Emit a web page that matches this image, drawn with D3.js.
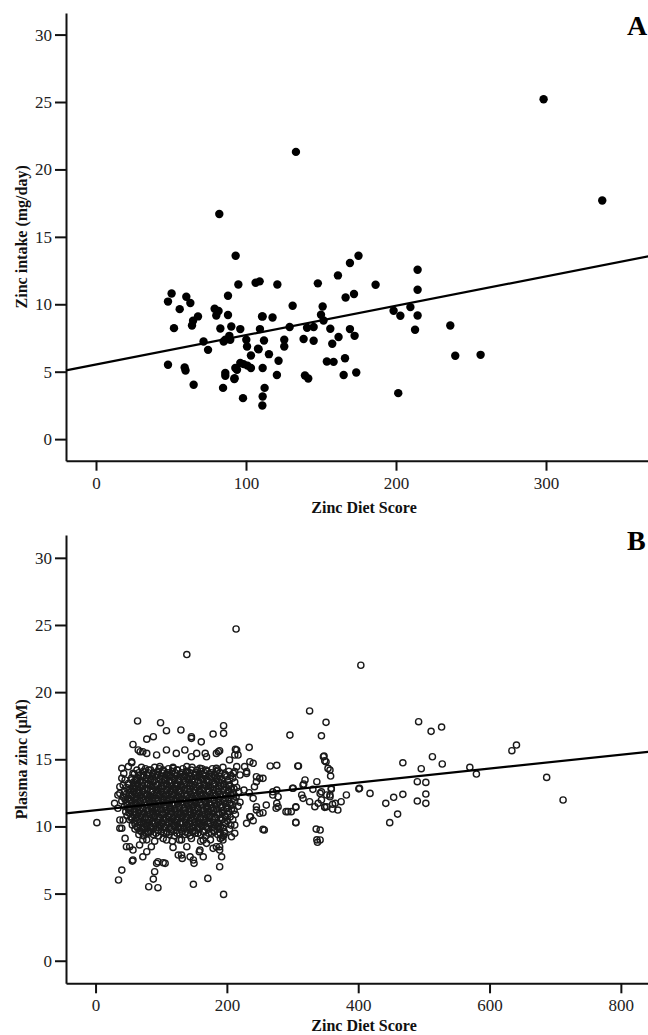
<!DOCTYPE html>
<html>
<head>
<meta charset="utf-8">
<script src="https://cdn.jsdelivr.net/npm/d3@7"></script>
<style>
  body { margin: 0; background: #fff; }
  svg { display: block; }
</style>
</head>
<body>
<svg id="chart"></svg>
<script>
const width = 648
const height = 1035

// panel A: zinc diet score vs zinc intake (mg/day)
const intakeScore = [48,50.4,55.8,60.2,62.9,52,48,59.1,59.7,65.1,68,64.7,64,71.7,74.7,79.1,81.7,80.2,82.9,82.2,84.7,86.2,86.2,86.2,88,88,88.9,90.2,92.4,92.9,93.1,94.9,96.2,98.4,98,100.2,100.7,103.3,103.3,106.4,109.1,108.4,109.3,111.1,111.1,112,112.4,111.1,110.9,115.3,117.7,120.6,120.9,121.7,125.5,125.5,129.1,131.1,133.3,138.4,139.3,141.5,140.7,145.1,145.1,147.9,150,151.1,151.7,153.9,156.2,157.5,158.4,161.3,161.7,165.1,166,166.4,169.3,169.3,172,172.4,173.5,175,186.4,198.4,201.5,202.9,209.6,212.7,214.4,214.4,214.4,236.2,239.5,256.4,298.4,337.5,94,92.2,96.2,101,89.5,85.1,110.7,108]
const intakeZinc = [10.2,10.8,9.64,10.56,10.09,8.23,5.51,5.31,5.09,4.03,9.1,8.78,8.43,7.24,6.62,9.67,9.5,9.17,8.2,16.7,3.8,4.9,4.7,7.37,9.2,10.63,7.66,8.35,4.52,5.27,13.6,11.47,8.16,5.56,3.04,7.37,6.87,6.2,5.27,11.6,11.7,6.67,8.16,9.1,5.27,7.31,3.8,3.16,2.49,6.3,9.02,4.75,11.47,5.81,7.37,6.87,8.31,9.89,21.3,7.42,4.72,4.5,8.26,8.31,7.29,11.55,9.22,9.84,8.8,5.76,8.18,7.07,5.73,12.14,7.57,4.75,6.0,10.5,13.06,8.16,10.76,7.66,4.94,13.6,11.45,9.52,3.41,9.15,9.79,8.11,12.56,11.08,9.17,8.43,6.18,6.25,25.2,17.7,5.14,4.45,5.64,5.45,7.37,7.24,9.1,6.7]

// panel B: zinc diet score vs plasma zinc (uM), pairs [score, zinc]
const plasmaOutliers = [[214,24.7],[139,22.8],[404,22.0],[64,17.85],[130,17.18],[99,17.72],[108,17.13],[195,17.5],[195,16.93],[146,16.56],[161,16.3],[179,16.88],[78,16.5],[88,16.68],[57,16.1],[65,15.69],[72,15.56],[326,18.6],[351,17.75],[296,16.8],[344,16.75],[234,15.89],[215,15.69],[217,15.32],[189,15.64],[266,14.5],[276,14.55],[309,14.5],[347,15.19],[349,14.89],[354,14.32],[40,14.33],[55,14.74],[492,17.8],[511,17.08],[527,17.4],[634,15.64],[641,16.06],[468,14.74],[496,14.3],[513,15.19],[528,14.65],[570,14.4],[580,13.9],[687,13.65],[712,11.97],[490,13.33],[503,13.28],[503,12.41],[490,11.89],[503,11.72],[468,12.39],[454,12.17],[442,11.72],[460,10.92],[448,10.28],[418,12.46],[401,12.8],[382,12.34],[374,11.84],[369,11.22],[361,11.3],[349,11.42],[361,11.65],[357,12.34],[359,12.84],[344,11.97],[344,12.58],[342,9.73],[342,8.99],[2,10.28],[195,4.94],[171,6.13],[149,5.69],[189,7.0],[95,5.44],[81,5.51],[88,6.08],[90,6.63],[35,6.01],[40,6.75],[56,7.42],[72,7.74],[103,7.3],[93,7.25],[132,7.62],[149,7.5],[164,7.74],[150,7.25],[192,7.74],[189,8.24],[257,9.73],[305,10.3],[336,9.8],[337,9.0],[338,8.82],[236,10.72],[255,11.02],[260,11.59],[270,12.58],[276,12.71],[278,11.47],[290,11.1],[298,11.1],[305,11.47],[301,12.84],[317,13.16],[331,12.76],[342,12.46],[349,11.47],[352,12.34],[348,15.24],[351,14.82],[357,14.2],[358,13.75],[308,14.5],[319,13.46],[337,13.33],[316,13.08],[300,12.84],[270,12.34],[278,12.21],[359,12.76],[357,12.21],[365,11.72],[352,11.47],[339,11.72],[334,11.47],[326,11.84],[316,12.09],[314,12.34],[402,12.84],[276,11.72],[275,11.35],[293,11.1],[305,11.42],[305,10.28],[245,11.47],[255,9.78],[213,15.74],[212,15.32],[250,13.58],[245,13.33],[242,12.96],[234,12.51],[226,12.71],[240,12.09],[235,14.82],[240,14.7],[227,14.45],[230,14.08],[220,13.83],[212,14.08],[245,11.22],[250,10.98],[235,10.72],[240,10.43],[230,10.23],[212,10.1],[212,9.49],[207,9.23],[193,9.19],[197,9.49],[189,8.49],[194,8.99]]
const plasmaHalo = [[29,11.72],[34,12.34],[37,12.96],[40,13.58],[43,13.95],[37,10.48],[40,9.86],[45,9.11],[47,8.49],[57,8.24],[57,13.95],[55,13.46],[62,12.84],[50,14.45],[72,8.99],[67,8.62],[85,8.49],[78,8.12],[108,8.99],[118,8.44],[128,8.99],[139,8.49],[131,7.87],[144,7.74],[159,8.24],[169,8.74],[179,8.37],[164,8.99],[78,15.44],[93,15.32],[108,15.69],[123,15.44],[136,15.69],[154,15.44],[169,15.19],[184,15.44],[204,14.95],[215,14.45],[230,13.95],[245,13.7],[255,13.58],[98,14.45],[118,14.33],[139,14.45],[159,14.33],[184,14.33],[210,13.95],[146,16.68],[68,15.56],[55,14.82],[45,13.46],[42,13.08],[37,12.46],[34,11.35],[42,10.48],[37,9.86],[52,8.49],[57,7.5],[95,7.37],[106,7.25],[126,7.87],[158,8.12],[184,8.49],[146,15.19],[167,15.44],[187,15.56]]
const plasmaCore = [
[63,14.2],[70,14.4],[76,14.3],[84,14.2],[90,14.4],[97,14.3],[104,14.1],[111,14.3],[118,14.4],[125,14.2],[133,14.3],[140,14.1],[147,14.4],[155,14.2],[162,14.3],[170,14.1],[178,14.3],[186,14.2],[194,14.4],[203,14.1],
[59,13.9],[66,14.0],[73,13.8],[80,14.0],[87,13.9],[94,13.8],[101,14.0],[108,13.9],[114,13.8],[121,14.0],[129,13.9],[136,13.8],[143,14.0],[151,13.9],[158,13.8],[166,14.0],[173,13.9],[181,13.8],[189,14.0],[197,13.9],[206,13.8],
[55,13.6],[62,13.5],[69,13.7],[77,13.6],[84,13.5],[91,13.7],[98,13.6],[105,13.5],[112,13.7],[119,13.6],[126,13.5],[133,13.7],[140,13.6],[147,13.5],[155,13.7],[162,13.6],[169,13.5],[177,13.7],[185,13.6],[192,13.5],[200,13.7],[209,13.6],
[50,13.2],[58,13.3],[65,13.2],[72,13.3],[80,13.2],[87,13.3],[94,13.1],[101,13.3],[108,13.2],[116,13.3],[123,13.2],[130,13.1],[137,13.3],[144,13.2],[151,13.3],[159,13.2],[166,13.1],[173,13.3],[181,13.2],[188,13.3],[196,13.2],[204,13.1],[212,13.3],
[47,12.9],[54,12.8],[61,13.0],[68,12.9],[75,12.8],[83,13.0],[90,12.9],[97,12.8],[104,13.0],[111,12.9],[118,12.8],[125,13.0],[132,12.9],[140,12.8],[147,13.0],[154,12.9],[161,12.8],[169,13.0],[176,12.9],[184,12.8],[191,13.0],[199,12.9],[207,12.8],[215,12.9],
[44,12.6],[51,12.5],[58,12.6],[65,12.5],[72,12.6],[79,12.4],[86,12.6],[93,12.5],[100,12.6],[107,12.4],[114,12.6],[121,12.5],[128,12.6],[135,12.4],[143,12.6],[150,12.5],[157,12.6],[164,12.4],[172,12.6],[179,12.5],[187,12.6],[194,12.4],[202,12.6],[210,12.5],[218,12.6],
[42,12.2],[49,12.1],[56,12.3],[63,12.2],[70,12.1],[77,12.3],[84,12.2],[91,12.1],[98,12.3],[105,12.2],[112,12.1],[119,12.3],[126,12.2],[133,12.1],[140,12.3],[147,12.2],[154,12.1],[161,12.3],[168,12.2],[176,12.1],[183,12.3],[190,12.2],[198,12.1],[206,12.3],[214,12.2],
[40,11.9],[47,11.8],[54,11.9],[61,11.7],[68,11.9],[75,11.8],[82,11.9],[89,11.7],[96,11.9],[103,11.8],[110,11.9],[117,11.7],[124,11.9],[131,11.8],[138,11.9],[145,11.7],[152,11.9],[159,11.8],[166,11.9],[173,11.7],[181,11.9],[188,11.8],[196,11.9],[204,11.7],[212,11.9],[220,11.8],
[44,11.5],[51,11.4],[58,11.6],[65,11.5],[72,11.4],[79,11.6],[86,11.5],[93,11.4],[100,11.6],[107,11.5],[114,11.4],[121,11.6],[128,11.5],[135,11.4],[142,11.6],[149,11.5],[156,11.4],[163,11.6],[170,11.5],[178,11.4],[185,11.6],[193,11.5],[201,11.4],[209,11.6],[217,11.5],
[46,11.1],[53,11.2],[60,11.1],[67,11.2],[74,11.0],[81,11.2],[88,11.1],[95,11.2],[102,11.0],[109,11.2],[116,11.1],[123,11.2],[130,11.0],[137,11.2],[144,11.1],[151,11.2],[158,11.0],[165,11.2],[172,11.1],[180,11.2],[187,11.0],[195,11.2],[203,11.1],[211,11.2],
[48,10.8],[55,10.7],[62,10.9],[69,10.8],[76,10.7],[83,10.9],[90,10.8],[97,10.7],[104,10.9],[111,10.8],[118,10.7],[125,10.9],[132,10.8],[139,10.7],[146,10.9],[153,10.8],[160,10.7],[167,10.9],[174,10.8],[182,10.7],[189,10.9],[197,10.8],[205,10.7],[213,10.9],
[52,10.5],[59,10.4],[66,10.5],[73,10.3],[80,10.5],[87,10.4],[94,10.5],[101,10.3],[108,10.5],[115,10.4],[122,10.5],[129,10.3],[136,10.5],[143,10.4],[150,10.5],[157,10.3],[164,10.5],[171,10.4],[178,10.5],[186,10.3],[193,10.5],[201,10.4],[209,10.5],
[56,10.1],[63,10.0],[70,10.2],[77,10.1],[84,10.0],[91,10.2],[98,10.1],[105,10.0],[112,10.2],[119,10.1],[126,10.0],[133,10.2],[140,10.1],[147,10.0],[154,10.2],[161,10.1],[168,10.0],[175,10.2],[183,10.1],[190,10.0],[198,10.2],[206,10.1],
[60,9.8],[67,9.7],[74,9.8],[81,9.6],[88,9.8],[95,9.7],[102,9.8],[109,9.6],[116,9.8],[123,9.7],[130,9.8],[137,9.6],[144,9.8],[151,9.7],[158,9.8],[165,9.6],[172,9.8],[180,9.7],[188,9.8],[196,9.6],[204,9.8],
[66,9.4],[73,9.3],[80,9.5],[88,9.4],[96,9.3],[104,9.5],[112,9.4],[120,9.3],[128,9.5],[136,9.4],[144,9.3],[152,9.5],[160,9.4],[168,9.3],[177,9.5],[186,9.4],[195,9.3],
[78,9.0],[90,8.9],[103,9.1],[117,8.9],[131,9.0],[146,9.1],[160,8.9],[175,9.0],[190,9.1]
]
// second, interleaved layer of the dense centre of the cloud
const plasmaCoreInner = [
[73,14.1],[81,14.2],[88,14.0],[95,14.1],[103,14.2],[110,14.0],[117,14.1],[124,14.2],[131,14.0],[138,14.1],[146,14.2],[153,14.0],[160,14.1],[168,14.2],[176,14.0],[184,14.1],
[65,13.8],[72,13.7],[80,13.8],[87,13.7],[94,13.8],[102,13.7],[109,13.8],[116,13.7],[123,13.8],[130,13.7],[137,13.8],[144,13.7],[152,13.8],[159,13.7],[167,13.8],[174,13.7],[182,13.8],[190,13.7],[198,13.8],
[61,13.4],[68,13.4],[76,13.5],[83,13.4],[90,13.4],[98,13.5],[105,13.4],[112,13.4],[120,13.5],[127,13.4],[134,13.4],[141,13.5],[148,13.4],[156,13.4],[163,13.5],[170,13.4],[178,13.4],[185,13.5],[193,13.4],[201,13.4],
[57,13.0],[64,13.1],[72,13.0],[79,13.1],[86,13.0],[93,13.1],[100,13.0],[108,13.1],[115,13.0],[122,13.1],[129,13.0],[136,13.1],[143,13.0],[150,13.1],[158,13.0],[165,13.1],[172,13.0],[180,13.1],[187,13.0],[195,13.1],[203,13.0],
[51,12.7],[58,12.8],[65,12.7],[72,12.7],[79,12.8],[87,12.7],[94,12.7],[101,12.8],[108,12.7],[115,12.7],[122,12.8],[129,12.7],[136,12.7],[144,12.8],[151,12.7],[158,12.7],[165,12.8],[173,12.7],[180,12.7],[188,12.8],[195,12.7],[203,12.7],[211,12.8],
[47,12.4],[54,12.3],[61,12.4],[68,12.3],[75,12.4],[82,12.3],[89,12.4],[96,12.3],[103,12.4],[110,12.3],[117,12.4],[124,12.3],[131,12.4],[138,12.3],[146,12.4],[153,12.3],[160,12.4],[167,12.3],[175,12.4],[182,12.3],[190,12.4],[198,12.3],[206,12.4],
[45,12.0],[52,12.0],[59,12.1],[66,12.0],[73,12.0],[80,12.1],[87,12.0],[94,12.0],[101,12.1],[108,12.0],[115,12.0],[122,12.1],[129,12.0],[136,12.0],[143,12.1],[150,12.0],[157,12.0],[164,12.1],[172,12.0],[179,12.0],[187,12.1],[194,12.0],[202,12.0],[210,12.1],
[48,11.6],[55,11.7],[62,11.6],[69,11.7],[76,11.6],[83,11.7],[90,11.6],[97,11.7],[104,11.6],[111,11.7],[118,11.6],[125,11.7],[132,11.6],[139,11.7],[146,11.6],[153,11.7],[160,11.6],[168,11.7],[175,11.6],[182,11.7],[190,11.6],[198,11.7],[206,11.6],
[50,11.3],[57,11.3],[64,11.4],[71,11.3],[78,11.3],[85,11.4],[92,11.3],[99,11.3],[106,11.4],[113,11.3],[120,11.3],[127,11.4],[134,11.3],[141,11.3],[148,11.4],[155,11.3],[162,11.3],[169,11.4],[176,11.3],[184,11.3],[191,11.4],[199,11.3],[207,11.3],
[51,11.0],[58,10.9],[65,11.0],[72,10.9],[79,11.0],[86,10.9],[93,11.0],[100,10.9],[107,11.0],[114,10.9],[121,11.0],[128,10.9],[135,11.0],[142,10.9],[149,11.0],[156,10.9],[163,11.0],[170,10.9],[178,11.0],[185,10.9],[193,11.0],[201,10.9],
[55,10.6],[62,10.6],[69,10.7],[76,10.6],[83,10.6],[90,10.7],[97,10.6],[104,10.6],[111,10.7],[118,10.6],[125,10.6],[132,10.7],[139,10.6],[146,10.6],[153,10.7],[160,10.6],[167,10.6],[174,10.7],[182,10.6],[190,10.6],[198,10.7],
[60,10.2],[67,10.3],[74,10.2],[81,10.3],[88,10.2],[95,10.3],[102,10.2],[109,10.3],[116,10.2],[123,10.3],[130,10.2],[137,10.3],[144,10.2],[151,10.3],[158,10.2],[165,10.3],[172,10.2],[180,10.3],[188,10.2],[196,10.3],
[64,9.9],[71,9.9],[78,10.0],[85,9.9],[92,9.9],[99,10.0],[106,9.9],[113,9.9],[120,10.0],[127,9.9],[134,9.9],[141,10.0],[148,9.9],[155,9.9],[162,10.0],[170,9.9],[178,9.9],[186,10.0],[194,9.9],
[70,9.6],[77,9.5],[84,9.6],[92,9.5],[100,9.6],[108,9.5],[116,9.6],[124,9.5],[132,9.6],[140,9.5],[148,9.6],[156,9.5],[164,9.6],[172,9.5],[181,9.6],[190,9.5]
]

const yTicks = [0, 5, 10, 15, 20, 25, 30]
const xTicksA = [0, 100, 200, 300]
const xTicksB = [0, 200, 400, 600, 800]

// fitted regression lines (intercept, slope)
const fitA = { a: 5.53, b: 0.0218 }
const fitB = { a: 11.2, b: 0.00518 }

const svg = d3.select('#chart').attr('width', width).attr('height', height)

function drawPanel(cfg) {
  const x = d3.scaleLinear().domain(cfg.xDomain).range(cfg.xRange)
  const y = d3.scaleLinear().domain(cfg.yDomain).range(cfg.yRange)
  const g = svg.append('g')

  // axes
  const ya = g.append('g').attr('transform', `translate(${cfg.xRange[0]},0)`)
    .call(d3.axisLeft(y).tickValues(yTicks).tickSize(11).tickSizeOuter(0).tickPadding(3))
  const xa = g.append('g').attr('transform', `translate(0,${cfg.yRange[0]})`)
    .call(d3.axisBottom(x).tickValues(cfg.xTicks).tickSize(10).tickSizeOuter(0).tickPadding(6))
  for (const a of [ya, xa]) {
    a.select('.domain').attr('stroke', '#111').attr('stroke-width', 2)
    a.selectAll('.tick line').attr('stroke', '#111').attr('stroke-width', 2)
    a.selectAll('.tick text')
      .attr('font-family', '"Liberation Serif", "DejaVu Serif", serif')
      .attr('font-size', 17).attr('fill', '#222')
  }

  // points
  const pts = g.append('g')
  if (cfg.filled) {
    pts.selectAll('circle').data(cfg.points).enter().append('circle')
      .attr('cx', d => x(d[0])).attr('cy', d => y(d[1]))
      .attr('r', 4.2).attr('fill', '#000')
  } else {
    pts.selectAll('circle').data(cfg.points).enter().append('circle')
      .attr('cx', d => x(d[0])).attr('cy', d => y(d[1]))
      .attr('r', 3.1).attr('fill', 'none').attr('stroke', '#1a1a1a').attr('stroke-width', 1.4)
  }

  // regression line
  const xs = cfg.xDomain
  g.append('line')
    .attr('x1', x(xs[0])).attr('y1', y(cfg.fit.a + cfg.fit.b * xs[0]))
    .attr('x2', x(xs[1])).attr('y2', y(cfg.fit.a + cfg.fit.b * xs[1]))
    .attr('stroke', '#000').attr('stroke-width', 2.2)

  // titles
  g.append('text')
    .attr('x', 364).attr('y', cfg.xTitleY)
    .attr('text-anchor', 'middle')
    .attr('font-family', '"Liberation Serif", serif').attr('font-weight', 'bold')
    .attr('font-size', 16).attr('fill', '#111')
    .text('Zinc Diet Score')
  g.append('text')
    .attr('transform', `translate(27,${(cfg.yRange[0] + cfg.yRange[1]) / 2}) rotate(-90)`)
    .attr('text-anchor', 'middle')
    .attr('font-family', '"Liberation Serif", serif').attr('font-weight', 'bold')
    .attr('font-size', 16).attr('fill', '#111')
    .text(cfg.yTitle)
  g.append('text')
    .attr('x', 627).attr('y', cfg.yRange[1] + cfg.labelDy)
    .attr('font-family', '"Liberation Serif", serif').attr('font-weight', 'bold')
    .attr('font-size', 28).attr('fill', '#000')
    .text(cfg.label)
}

drawPanel({
  xDomain: [-20, 375], xRange: [66, 658.5],
  yDomain: [-1.6, 31.6], yRange: [460.7, 13],
  xTicks: xTicksA,
  points: intakeScore.map((s, i) => [s, intakeZinc[i]]),
  filled: true, fit: fitA,
  xTitleY: 513, yTitle: 'Zinc intake (mg/day)', label: 'A', labelDy: 22
})

drawPanel({
  xDomain: [-45, 880], xRange: [66, 673.4],
  yDomain: [-1.68, 31.7], yRange: [983.3, 535],
  xTicks: xTicksB,
  points: plasmaCore.concat(plasmaCoreInner, plasmaHalo, plasmaOutliers),
  filled: false, fit: fitB,
  xTitleY: 1031, yTitle: 'Plasma zinc (\u03bcM)', label: 'B', labelDy: 15
})
</script>
</body>
</html>
